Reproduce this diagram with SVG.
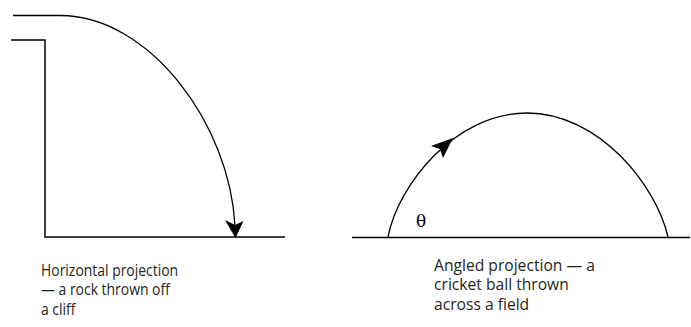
<svg xmlns="http://www.w3.org/2000/svg" width="691" height="327" viewBox="0 0 691 327">
<style>
.ln{fill:none;stroke:#000;stroke-width:1.5}
.cv{fill:none;stroke:#000;stroke-width:1.3}
.ah{fill:#000;stroke:none}
.lbl{font-family:"Open Sans","Noto Sans",sans-serif;font-size:17px;fill:#231f20}
.th{font-family:"DejaVu Serif","Liberation Serif",serif;font-size:17px;fill:#000}
</style>
<rect width="691" height="327" fill="#fff"/>
<g id="cliff-scene">
<path class="ln" d="M11,40 H45 V237 H285"/>
<path class="ln" d="M13,15.5 H60"/>
</g>
<g id="field-scene">
<path class="ln" d="M352,237.5 H690"/>
<text class="th" x="416" y="227">θ</text>
</g>
<g id="connectors">
<path class="cv" d="M60,15.5 C150,15.5 230,125 235,226"/>
<polygon class="ah" points="235.5,238 225,220 235,225 243.5,221"/>
<path class="cv" d="M388,237 C398,185 455,113 527,113 C599,113 656,185 668,237"/>
<polygon class="ah" points="453,138 431,146 440,149 443,158"/>
</g>
<g id="caption-left" transform="translate(41,0) scale(0.82,1)">
<text class="lbl" x="0" y="276">Horizontal projection</text>
<text class="lbl" x="0" y="295.5">— a rock thrown off</text>
<text class="lbl" x="0" y="315">a cliff</text>
</g>
<g id="caption-right" transform="translate(434,0) scale(0.92,1)">
<text class="lbl" x="0" y="271">Angled projection — a</text>
<text class="lbl" x="0" y="290.5">cricket ball thrown</text>
<text class="lbl" x="0" y="310">across a field</text>
</g>
</svg>
